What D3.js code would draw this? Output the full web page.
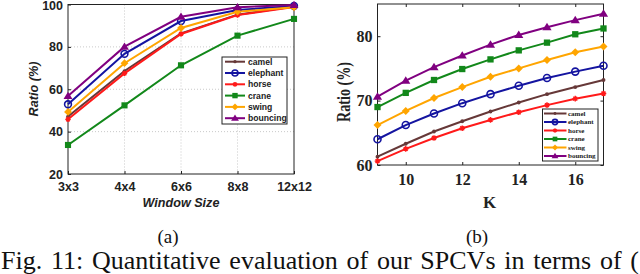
<!DOCTYPE html>
<html><head><meta charset="utf-8">
<script src="https://cdn.jsdelivr.net/npm/d3@7"></script>
<style>body{margin:0;background:#fff}svg{display:block}</style>
</head><body>
<svg id="c" width="640" height="274"></svg>
<script>
const seriesNames = ["camel","elephant","horse","crane","swing","bouncing"];
const colors = ["#663838","#1414a0","#ff1a1a","#12881a","#ffa500","#800080"];
const markers = ["dot","circle","star","square","diamond","triangle"];

const windowLabels = ["3x3","4x4","6x6","8x8","12x12"];
const aCamel    = [47.1, 68.6, 86.4, 95.2, 99.0];
const aElephant = [52.9, 76.7, 92.2, 97.4, 99.3];
const aHorse    = [45.8, 67.5, 86.1, 95.0, 98.8];
const aCrane    = [33.7, 52.4, 71.3, 85.3, 93.2];
const aSwing    = [49.3, 72.3, 88.9, 96.6, 98.7];
const aBouncing = [56.8, 80.1, 94.2, 98.7, 99.8];
const aYTicks = [20, 40, 60, 80, 100];

const kValues = [9,10,11,12,13,14,15,16,17];
const bCamel    = [61.3, 63.3, 65.2, 66.8, 68.3, 69.7, 71.0, 72.1, 73.2];
const bElephant = [64.0, 66.2, 68.0, 69.6, 71.0, 72.3, 73.5, 74.5, 75.4];
const bHorse    = [60.6, 62.5, 64.2, 65.7, 67.0, 68.2, 69.3, 70.3, 71.1];
const bCrane    = [69.0, 71.2, 73.2, 74.9, 76.4, 77.8, 79.0, 80.3, 81.2];
const bSwing    = [66.2, 68.4, 70.4, 72.1, 73.7, 75.0, 76.3, 77.5, 78.4];
const bBouncing = [70.6, 73.1, 75.2, 77.0, 78.7, 80.2, 81.4, 82.5, 83.5];
const bXTicks = [10,12,14,16];
const bYTicks = [60,70,80];

const svg = d3.select("#c");

function drawMarker(g, type, x, y, color, s) {
  if (type === "dot") {
    g.append("circle").attr("cx", x).attr("cy", y).attr("r", s*0.55).attr("fill", color);
  } else if (type === "circle") {
    g.append("circle").attr("cx", x).attr("cy", y).attr("r", s).attr("fill", "none").attr("stroke", color).attr("stroke-width", 1.6);
  } else if (type === "star") {
    const r = s*0.8;
    g.append("path").attr("d", `M${x-r},${y}H${x+r}M${x},${y-r}V${y+r}M${x-r*0.7},${y-r*0.7}L${x+r*0.7},${y+r*0.7}M${x-r*0.7},${y+r*0.7}L${x+r*0.7},${y-r*0.7}`).attr("stroke", color).attr("stroke-width", 1.4);
  } else if (type === "square") {
    g.append("rect").attr("x", x-s*0.9).attr("y", y-s*0.9).attr("width", s*1.8).attr("height", s*1.8).attr("fill", color);
  } else if (type === "diamond") {
    const r = s*1.15;
    g.append("path").attr("d", `M${x},${y-r}L${x+r},${y}L${x},${y+r}L${x-r},${y}Z`).attr("fill", color);
  } else if (type === "triangle") {
    const r = s*1.25;
    g.append("path").attr("d", `M${x},${y-r}L${x+r*1.05},${y+r*0.7}L${x-r*1.05},${y+r*0.7}Z`).attr("fill", color);
  }
}

// ---------- Chart (a) ----------
(function(){
  const L = 68, R = 294, T = 4.5, B = 174;
  const x = d3.scalePoint().domain(windowLabels).range([L, R]);
  const y = d3.scaleLinear().domain([20, 100]).range([B, T]);
  const g = svg.append("g");
  g.selectAll(".gx").data(windowLabels.slice(1, -1)).enter().append("line")
    .attr("x1", d => x(d)).attr("x2", d => x(d)).attr("y1", T).attr("y2", B)
    .attr("stroke", "#bbb").attr("stroke-width", 0.8).attr("stroke-dasharray", "1,2");
  g.selectAll(".gy").data(aYTicks.slice(1, -1)).enter().append("line")
    .attr("x1", L).attr("x2", R).attr("y1", d => y(d)).attr("y2", d => y(d))
    .attr("stroke", "#bbb").attr("stroke-width", 0.8).attr("stroke-dasharray", "1,2");
  const font = "Liberation Sans, Arial, sans-serif";
  const ax = g.append("g").attr("transform", `translate(0,${B})`)
    .call(d3.axisBottom(x).tickSize(-3).tickPadding(6));
  const ay = g.append("g").attr("transform", `translate(${L},0)`)
    .call(d3.axisLeft(y).tickValues(aYTicks).tickSize(-3).tickPadding(5));
  [ax, ay].forEach(a => {
    a.select(".domain").remove();
    a.selectAll("text").attr("font-family", font).attr("font-size", 12.5).attr("font-weight", "bold").attr("fill", "#222");
    a.selectAll("line").attr("stroke", "#222");
  });
  ax.selectAll("text").attr("dy", "0.85em");
  ay.selectAll("text").filter(d => d === 100).attr("dy", "0.42em");
  g.append("rect").attr("x", L).attr("y", T).attr("width", R-L).attr("height", B-T)
    .attr("fill", "none").attr("stroke", "#222").attr("stroke-width", 1);
  const data = [aCamel, aElephant, aHorse, aCrane, aSwing, aBouncing];
  const line = d3.line().x((d,i) => x(windowLabels[i])).y(d => y(d));
  data.forEach((vals, si) => {
    g.append("path").attr("d", line(vals)).attr("fill", "none").attr("stroke", colors[si]).attr("stroke-width", 2);
    vals.forEach((v, i) => drawMarker(g, markers[si], x(windowLabels[i]), y(v), colors[si], 3.4));
  });
  g.append("text").attr("transform", `translate(37.5,89) rotate(-90)`).attr("text-anchor", "middle")
    .attr("font-family", font).attr("font-size", 12.7).attr("font-weight", "bold").attr("font-style", "italic").attr("fill", "#222").text("Ratio (%)");
  g.append("text").attr("x", 181).attr("y", 207).attr("text-anchor", "middle")
    .attr("font-family", font).attr("font-size", 12.6).attr("font-weight", "bold").attr("font-style", "italic").attr("fill", "#222").text("Window Size");
  const lx = 222, ly = 57, lw = 65, lh = 67;
  g.append("rect").attr("x", lx).attr("y", ly).attr("width", lw).attr("height", lh).attr("fill", "#fff").attr("stroke", "#222").attr("stroke-width", 1);
  seriesNames.forEach((n, i) => {
    const yy = ly + 4.7 + i*11.3;
    g.append("line").attr("x1", lx+3).attr("x2", lx+23).attr("y1", yy).attr("y2", yy).attr("stroke", colors[i]).attr("stroke-width", 2);
    drawMarker(g, markers[i], lx+13, yy, colors[i], 3);
    g.append("text").attr("x", lx+26).attr("y", yy).attr("dy", "0.35em").attr("font-family", font).attr("font-size", 8.6).attr("font-weight", "bold").attr("fill", "#222").text(n);
  });
})();

// ---------- Chart (b) ----------
(function(){
  const L = 377.5, R = 603.5, T = 4, B = 165;
  const x = d3.scaleLinear().domain([9, 17]).range([L, R]);
  const y = d3.scaleLinear().domain([60, 85]).range([B, T]);
  const g = svg.append("g");
  const font = "Liberation Serif, Times New Roman, serif";
  const ax = g.append("g").attr("transform", `translate(0,${B})`)
    .call(d3.axisBottom(x).tickValues(bXTicks).tickSize(-3).tickPadding(6));
  const ay = g.append("g").attr("transform", `translate(${L},0)`)
    .call(d3.axisLeft(y).tickValues(bYTicks).tickSize(-3).tickPadding(5));
  const axT = g.append("g").attr("transform", `translate(0,${T})`)
    .call(d3.axisTop(x).tickValues(bXTicks).tickSize(-3).tickFormat(""));
  const ayR = g.append("g").attr("transform", `translate(${R},0)`)
    .call(d3.axisRight(y).tickValues(bYTicks).tickSize(-3).tickFormat(""));
  [ax, ay, axT, ayR].forEach(a => {
    a.select(".domain").remove();
    a.selectAll("text").attr("font-family", font).attr("font-size", 16).attr("font-weight", "bold").attr("fill", "#222");
    a.selectAll("line").attr("stroke", "#222");
  });
  ax.selectAll("text").attr("dy", "0.85em");
  g.append("rect").attr("x", L).attr("y", T).attr("width", R-L).attr("height", B-T)
    .attr("fill", "none").attr("stroke", "#222").attr("stroke-width", 1);
  const data = [bCamel, bElephant, bHorse, bCrane, bSwing, bBouncing];
  const line = d3.line().x((d,i) => x(kValues[i])).y(d => y(d));
  data.forEach((vals, si) => {
    g.append("path").attr("d", line(vals)).attr("fill", "none").attr("stroke", colors[si]).attr("stroke-width", 2);
    vals.forEach((v, i) => drawMarker(g, markers[si], x(kValues[i]), y(v), colors[si], 3.5));
  });
  g.append("text").attr("transform", `translate(350,92) rotate(-90)`).attr("text-anchor", "middle")
    .attr("font-family", font).attr("font-size", 18).attr("font-weight", "bold").attr("fill", "#222")
    .attr("textLength", 60).attr("lengthAdjust", "spacingAndGlyphs").text("Ratio (%)");
  g.append("text").attr("x", 489.5).attr("y", 207.5).attr("text-anchor", "middle")
    .attr("font-family", font).attr("font-size", 17).attr("font-weight", "bold").attr("fill", "#222").text("K");
  const lx = 542.5, ly = 109, lw = 55.5, lh = 52;
  g.append("rect").attr("x", lx).attr("y", ly).attr("width", lw).attr("height", lh).attr("fill", "#fff").attr("stroke", "#222").attr("stroke-width", 1);
  seriesNames.forEach((n, i) => {
    const yy = ly + 4.5 + i*8.5;
    g.append("line").attr("x1", lx+1.5).attr("x2", lx+24).attr("y1", yy).attr("y2", yy).attr("stroke", colors[i]).attr("stroke-width", 2);
    drawMarker(g, markers[i], lx+12.5, yy, colors[i], 2.6);
    g.append("text").attr("x", lx+25.5).attr("y", yy).attr("dy", "0.35em").attr("font-family", font).attr("font-size", 7).attr("font-weight", "bold").attr("fill", "#222").text(n);
  });
})();

// ---------- captions ----------
const capFont = "Liberation Serif, Times New Roman, serif";
svg.append("text").attr("x", 168).attr("y", 243).attr("text-anchor", "middle").attr("font-family", capFont).attr("font-size", 19).attr("fill", "#111").text("(a)");
svg.append("text").attr("x", 477).attr("y", 243).attr("text-anchor", "middle").attr("font-family", capFont).attr("font-size", 19).attr("fill", "#111").text("(b)");
const cap = svg.append("text").attr("x", 1).attr("y", 269).attr("font-family", capFont).attr("font-size", 26).attr("fill", "#111").text("Fig. 11: Quantitative evaluation of our SPCVs in terms of (");
const w = cap.node().getComputedTextLength();
const spaces = 10;
const extra = (639 - 1 - w) / spaces;
if (extra > 0) cap.attr("word-spacing", extra);
</script>
</body></html>
